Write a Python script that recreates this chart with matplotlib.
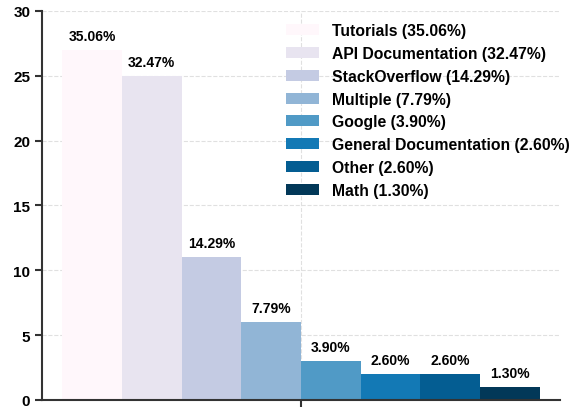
import numpy as np
import matplotlib
matplotlib.use("Agg")
import matplotlib.pyplot as plt

categories = ["Tutorials", "API Documentation", "StackOverflow", "Multiple",
              "Google", "General Documentation", "Other", "Math"]
counts = [27, 25, 11, 6, 3, 2, 2, 1]

plt.rcParams['font.family'] = ['Liberation Sans', 'DejaVu Sans']
plt.rcParams['font.weight'] = 'bold'

total = sum(counts)
pcts = [c / total * 100 for c in counts]
colors = plt.cm.PuBu(np.linspace(0, 1, len(counts)))

fig = plt.figure(figsize=(5.82, 4.10), dpi=100)
ax = fig.add_axes([0.0722, 0.022, 0.890, 0.949])

w = 0.1
for i, (cat, c, p) in enumerate(zip(categories, counts, pcts)):
    x = (i - (len(counts) - 1) / 2) * w
    ax.bar(x, c, width=w, color=colors[i], label=f"{cat} ({p:.2f}%)", zorder=2)
    ax.annotate(f"{p:.2f}%", (x, c), xytext=(0, 5), textcoords="offset points",
                ha="center", va="bottom", fontsize=10, fontweight="bold")

ax.margins(x=0.042)
ax.set_ylim(0, 30)
ax.set_yticks([0, 5, 10, 15, 20, 25, 30])
ax.set_xticks([0])
ax.set_xticklabels([""])
ax.grid(True, linestyle="--", color="#e0e0e0", linewidth=0.8, zorder=0)
ax.set_axisbelow(True)
for s in ["top", "right"]:
    ax.spines[s].set_visible(False)
for s in ["left", "bottom"]:
    ax.spines[s].set_color("#333333")
    ax.spines[s].set_linewidth(1.5)
ax.tick_params(colors="#333333", width=1.5, length=5, labelsize=11)
for lab in ax.get_yticklabels():
    lab.set_color("black")
    lab.set_fontweight("bold")

leg = ax.legend(loc="upper right", frameon=False, fontsize=11.3,
                labelspacing=0.5, handlelength=2.1, bbox_to_anchor=(1.046, 1.005))
for t in leg.get_texts():
    t.set_fontweight("bold")

fig.savefig("out.png", dpi=100)
